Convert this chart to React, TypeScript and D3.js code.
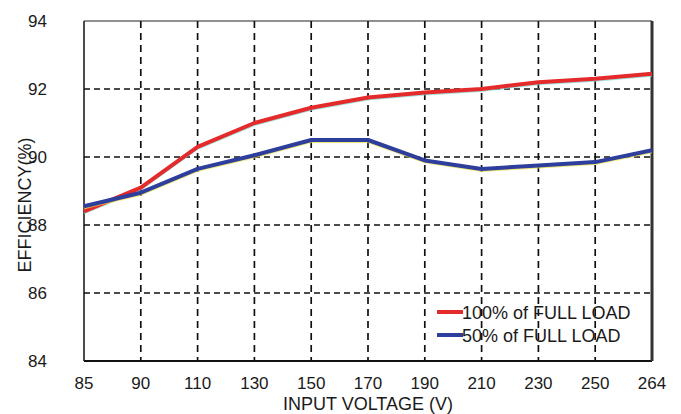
import React from "react";
import * as d3 from "d3";

const categories = ["85", "90", "110", "130", "150", "170", "190", "210", "230", "250", "264"];
const fullLoad = [88.4, 89.1, 90.3, 91.0, 91.45, 91.75, 91.9, 92.0, 92.2, 92.3, 92.45];
const halfLoad = [88.55, 88.95, 89.65, 90.05, 90.5, 90.5, 89.9, 89.65, 89.75, 89.85, 90.2];
const yTicks = [84, 86, 88, 90, 92, 94];
const seriesNames = ["100% of FULL LOAD", "50% of FULL LOAD"];

const W = 681;
const H = 414;
const left = 84;
const right = 652;
const top = 21;
const bottom = 361;
const FONT = "'Liberation Sans', Arial, sans-serif";

export default function App() {
  const x = d3.scalePoint<string>().domain(categories).range([left, right]);
  const y = d3.scaleLinear().domain([84, 94]).range([bottom, top]);
  const line = d3
    .line<number>()
    .x((_, i) => x(categories[i]) as number)
    .y((d) => y(d));

  const series = [
    { name: seriesNames[0], values: fullLoad, color: "#e42a2a", fringe: "#7fd6d6" },
    { name: seriesNames[1], values: halfLoad, color: "#2d3e9c", fringe: "#e8dc40" },
  ];

  return (
    <svg width={W} height={H} style={{ position: "absolute", left: 0, top: 0, background: "#fff" }}>
      <rect x={0} y={0} width={W} height={H} fill="#fff" />
      {yTicks
        .filter((t) => t > 84 && t < 94)
        .map((t) => (
          <line key={"h" + t} x1={left} x2={right} y1={y(t)} y2={y(t)} stroke="#111" strokeWidth={1.7} strokeDasharray="6,4" />
        ))}
      {categories.slice(1, -1).map((c) => (
        <line key={"v" + c} x1={x(c)} x2={x(c)} y1={top} y2={bottom} stroke="#111" strokeWidth={1.7} strokeDasharray="7,5" />
      ))}
      <line x1={left} x2={right} y1={top} y2={top} stroke="#222" strokeWidth={1.2} />
      <line x1={left} x2={left} y1={top} y2={bottom} stroke="#111" strokeWidth={1.5} />
      <line x1={left} x2={right} y1={bottom} y2={bottom} stroke="#111" strokeWidth={1.8} />
      <line x1={right} x2={right} y1={top} y2={bottom} stroke="#333" strokeWidth={3} />

      {series.map((s) => (
        <g key={s.name}>
          <path d={line(s.values) || ""} fill="none" stroke={s.fringe} strokeWidth={2} transform="translate(0,2)" opacity={0.7} />
          <path d={line(s.values) || ""} fill="none" stroke={s.color} strokeWidth={4} strokeLinejoin="round" />
        </g>
      ))}

      {series.map((s, i) => (
        <g key={"lg" + i} transform={`translate(437, ${312 + i * 23})`}>
          <line x1={0} x2={26} y1={0} y2={0} stroke={s.color} strokeWidth={4} />
          <text x={25} y={6.5} fontFamily={FONT} fontSize={18} fill="#1a1a1a">
            {s.name}
          </text>
        </g>
      ))}

      {yTicks.map((t) => (
        <text key={"yt" + t} x={47} y={y(t) + 6} textAnchor="end" fontFamily={FONT} fontSize={17} fill="#1a1a1a">
          {t}
        </text>
      ))}
      {categories.map((c) => (
        <text key={"xt" + c} x={x(c)} y={389} textAnchor="middle" fontFamily={FONT} fontSize={17} fill="#1a1a1a">
          {c}
        </text>
      ))}
      <text x={(left + right) / 2} y={410} textAnchor="middle" fontFamily={FONT} fontSize={18} fill="#1a1a1a">
        INPUT VOLTAGE (V)
      </text>
      <text
        transform={`translate(31, 205) rotate(-90)`}
        textAnchor="middle"
        fontFamily={FONT}
        fontSize={18}
        fill="#1a1a1a"
      >
        EFFICIENCY(%)
      </text>
    </svg>
  );
}
